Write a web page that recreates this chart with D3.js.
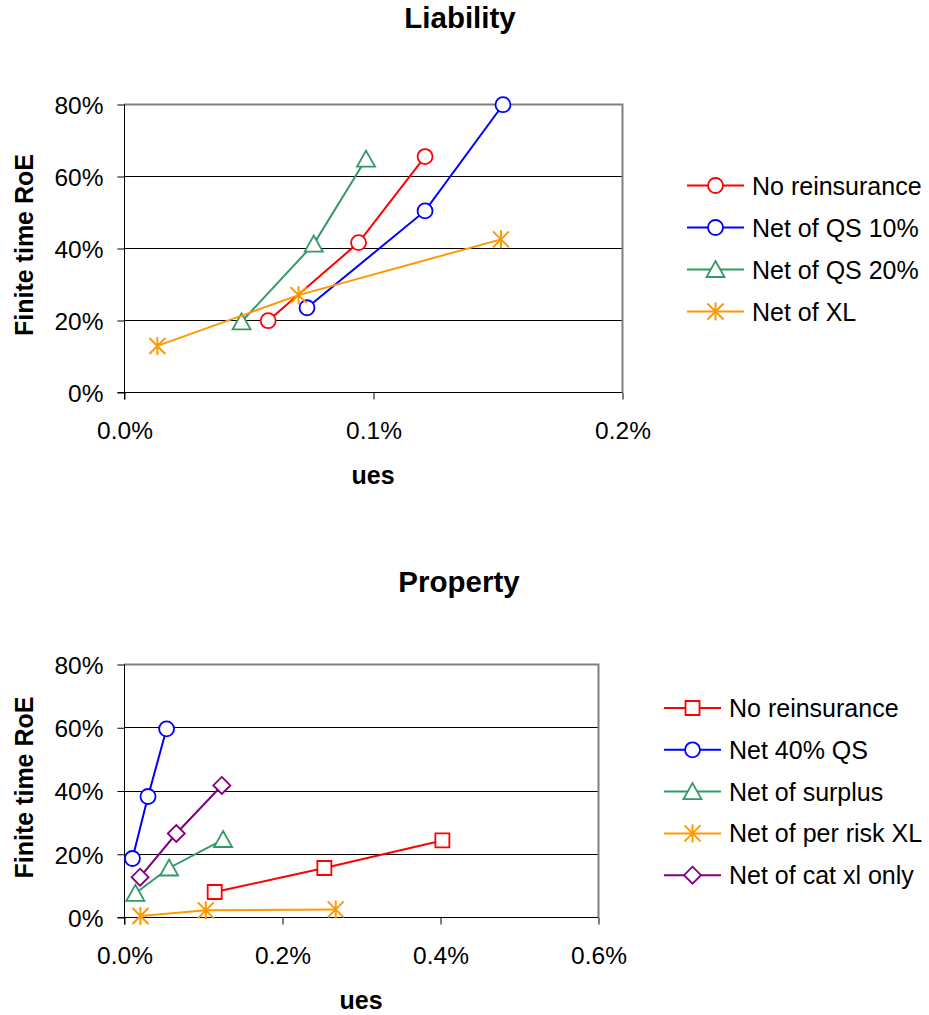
<!DOCTYPE html>
<html>
<head>
<meta charset="utf-8">
<script src="https://cdn.jsdelivr.net/npm/d3@7"></script>
<style>
  html, body { margin: 0; padding: 0; background: #fff; }
  svg { display: block; font-family: "Liberation Sans", Arial, sans-serif; }
</style>
</head>
<body>
<svg id="chart" width="929" height="1015"></svg>
<script>
// ---- Liability: expected ruin (x) vs finite time RoE (y) ----
const liabilityNames = ["No reinsurance", "Net of QS 10%", "Net of QS 20%", "Net of XL"];
const liabNoReX   = [0.000579, 0.000942, 0.001209];
const liabNoReY   = [0.198, 0.415, 0.654];
const liabQS10X   = [0.000735, 0.001209, 0.001522];
const liabQS10Y   = [0.234, 0.503, 0.798];
const liabQS20X   = [0.000472, 0.000762, 0.000972];
const liabQS20Y   = [0.195, 0.411, 0.647];
const liabXLX     = [0.000134, 0.000701, 0.001514];
const liabXLY     = [0.128, 0.269, 0.424];
const liabXTicks  = [0, 0.001, 0.002];

// ---- Property ----
const propertyNames = ["No reinsurance", "Net 40% QS", "Net of surplus", "Net of per risk XL", "Net of cat xl only"];
const propNoReX    = [0.001148, 0.002536, 0.004030];
const propNoReY    = [0.079, 0.155, 0.242];
const propQS40X    = [0.000107, 0.000304, 0.000539];
const propQS40Y    = [0.185, 0.381, 0.595];
const propSurplusX = [0.000144, 0.000571, 0.001254];
const propSurplusY = [0.075, 0.155, 0.245];
const propPerRiskX = [0.000208, 0.001036, 0.002680];
const propPerRiskY = [0.003, 0.021, 0.024];
const propCatX     = [0.000203, 0.000662, 0.001238];
const propCatY     = [0.126, 0.264, 0.416];
const propXTicks   = [0, 0.002, 0.004, 0.006];

const yTicks = [0, 0.2, 0.4, 0.6, 0.8];

const RED = "#ff0000", BLUE = "#0000ff", GREEN = "#339966", ORANGE = "#ff9900", PURPLE = "#800080";

const zip = (xs, ys) => xs.map((x, i) => ({ x, y: ys[i] }));

const liabilitySeries = [
  { name: liabilityNames[0], color: RED,    marker: "circle",   pts: zip(liabNoReX, liabNoReY) },
  { name: liabilityNames[1], color: BLUE,   marker: "circle",   pts: zip(liabQS10X, liabQS10Y) },
  { name: liabilityNames[2], color: GREEN,  marker: "triangle", pts: zip(liabQS20X, liabQS20Y) },
  { name: liabilityNames[3], color: ORANGE, marker: "star",     pts: zip(liabXLX, liabXLY) }
];

const propertySeries = [
  { name: propertyNames[0], color: RED,    marker: "square",   pts: zip(propNoReX, propNoReY) },
  { name: propertyNames[1], color: BLUE,   marker: "circle",   pts: zip(propQS40X, propQS40Y) },
  { name: propertyNames[2], color: GREEN,  marker: "triangle", pts: zip(propSurplusX, propSurplusY) },
  { name: propertyNames[3], color: ORANGE, marker: "star",     pts: zip(propPerRiskX, propPerRiskY) },
  { name: propertyNames[4], color: PURPLE, marker: "diamond",  pts: zip(propCatX, propCatY) }
];

// Marker outline shapes, centred on (0,0)
function markerPath(type) {
  switch (type) {
    case "circle":   return "M7.5,0A7.5,7.5 0 1,1 -7.5,0A7.5,7.5 0 1,1 7.5,0Z";
    case "square":   return "M-7,-7H7V7H-7Z";
    case "triangle": return "M0,-8.5L9,7.5H-9Z";
    case "diamond":  return "M0,-8.5L8.5,0L0,8.5L-8.5,0Z";
    case "star":     return "M0,-9V9M-8,-8L8,8M-8,8L8,-8";
  }
}

function drawMarker(sel, type, color) {
  sel.append("path")
    .attr("d", markerPath(type))
    .attr("fill", type === "star" ? "none" : "#fff")
    .attr("stroke", color)
    .attr("stroke-width", type === "star" ? 2 : 1.8);
}

const svg = d3.select("#chart");

function drawChart(cfg) {
  const { left, right, top, bottom } = cfg;
  const x = d3.scaleLinear().domain([0, cfg.xMax]).range([left, right]);
  const y = d3.scaleLinear().domain([0, 0.8]).range([bottom, top]);
  const g = svg.append("g");

  // Title
  g.append("text")
    .attr("x", cfg.titleX).attr("y", cfg.titleY)
    .attr("text-anchor", "middle")
    .attr("font-size", 29.5).attr("font-weight", "bold")
    .text(cfg.title);

  // Horizontal gridlines
  g.append("g").selectAll("line")
    .data(yTicks.slice(1, -1))
    .join("line")
    .attr("x1", left).attr("x2", right)
    .attr("y1", d => Math.round(y(d)) + 0.5).attr("y2", d => Math.round(y(d)) + 0.5)
    .attr("stroke", "#000").attr("stroke-width", 1);

  // Plot-area border (top and right)
  g.append("path")
    .attr("d", `M${left},${top + 0.5}H${right + 0.5}V${bottom}`)
    .attr("fill", "none").attr("stroke", "#808080").attr("stroke-width", 2);

  // Y axis
  const yAxis = d3.axisLeft(y).tickValues(yTicks).tickFormat(d3.format(".0%"))
    .tickSize(7).tickPadding(14);
  const ya = g.append("g").attr("transform", `translate(${left + 0.5},0.5)`).call(yAxis);
  ya.select(".domain").attr("d", `M0,${top}V${bottom + 7}`).attr("stroke", "#000");
  ya.selectAll(".tick line").attr("stroke", "#000");
  ya.selectAll(".tick text")
    .attr("font-size", 24.5).attr("font-family", "Liberation Sans, Arial, sans-serif")
    .attr("fill", "#000").attr("dy", "0.36em");

  // X axis
  const xAxis = d3.axisBottom(x).tickValues(cfg.xTicks).tickFormat(d3.format(".1%"))
    .tickSize(7).tickPadding(22);
  const xa = g.append("g").attr("transform", `translate(0.5,${bottom + 0.5})`).call(xAxis);
  xa.select(".domain").attr("d", `M${left - 7},0H${right}`).attr("stroke", "#000");
  xa.selectAll(".tick line").attr("stroke", "#000");
  xa.selectAll(".tick text")
    .attr("font-size", 24.5).attr("font-family", "Liberation Sans, Arial, sans-serif")
    .attr("fill", "#000");

  // Axis titles
  g.append("text")
    .attr("x", (left + right) / 2).attr("y", bottom + 92)
    .attr("text-anchor", "middle")
    .attr("font-size", 25).attr("font-weight", "bold")
    .text("ues");
  g.append("text")
    .attr("transform", `translate(33,${(top + bottom) / 2 - 3}) rotate(-90)`)
    .attr("text-anchor", "middle")
    .attr("font-size", 25).attr("font-weight", "bold")
    .text("Finite time RoE");

  // Series lines and markers
  const line = d3.line().x(d => x(d.x)).y(d => y(d.y));
  cfg.series.forEach(s => {
    g.append("path")
      .attr("d", line(s.pts))
      .attr("fill", "none").attr("stroke", s.color).attr("stroke-width", 2);
    g.append("g").selectAll("g")
      .data(s.pts)
      .join("g")
      .attr("transform", d => `translate(${x(d.x)},${y(d.y)})`)
      .each(function () { drawMarker(d3.select(this), s.marker, s.color); });
  });

  // Legend
  const lg = g.append("g");
  cfg.series.forEach((s, i) => {
    const ry = cfg.legendTop + i * cfg.legendStep;
    const row = lg.append("g").attr("transform", `translate(0,${ry})`);
    row.append("line")
      .attr("x1", cfg.legendX0).attr("x2", cfg.legendX1)
      .attr("stroke", s.color).attr("stroke-width", 2);
    const m = row.append("g").attr("transform", `translate(${(cfg.legendX0 + cfg.legendX1) / 2},0)`);
    drawMarker(m, s.marker, s.color);
    row.append("text")
      .attr("x", cfg.legendX1 + 8).attr("y", 9)
      .attr("font-size", 25)
      .text(s.name);
  });
}

drawChart({
  title: "Liability", titleX: 460, titleY: 28,
  left: 124, right: 622, top: 104, bottom: 392,
  xMax: 0.002, xTicks: liabXTicks,
  series: liabilitySeries,
  legendTop: 185.5, legendStep: 42, legendX0: 687, legendX1: 744
});

drawChart({
  title: "Property", titleX: 459, titleY: 592,
  left: 124, right: 598, top: 664, bottom: 917,
  xMax: 0.006, xTicks: propXTicks,
  series: propertySeries,
  legendTop: 708, legendStep: 41.8, legendX0: 664, legendX1: 721
});
</script>
</body>
</html>
